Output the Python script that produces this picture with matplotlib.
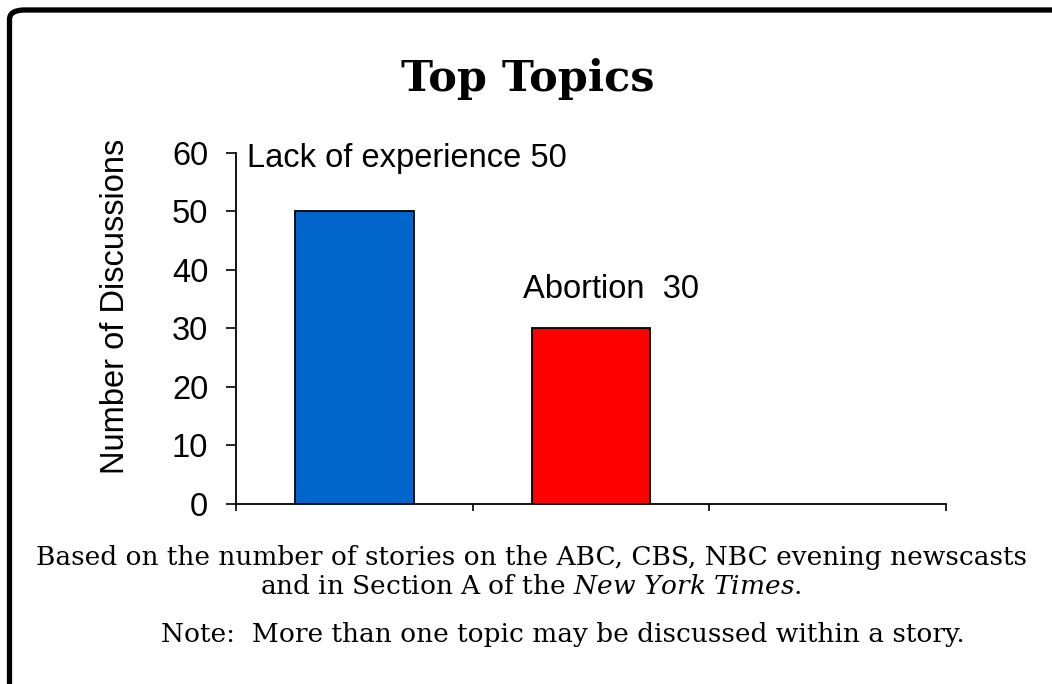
import matplotlib
matplotlib.use("Agg")
import matplotlib.pyplot as plt
from matplotlib.patches import FancyBboxPatch

plt.rcParams["mathtext.fontset"] = "dejavuserif"

categories = ["Lack of experience", "Abortion", ""]
values = [50, 30, 0]
bar_colors = ["#0066CC", "#FF0000", "#FFFFFF"]
label_texts = ["Lack of experience 50", "Abortion  30"]
yticks = [0, 10, 20, 30, 40, 50, 60]

W, H = 1052, 684
fig = plt.figure(figsize=(W / 100, H / 100), dpi=100)
fig.patch.set_facecolor("white")

# rounded border (extends past right/bottom edge)
border = FancyBboxPatch((9.5 / W, -30 / H), (1100 - 9.5) / W, (H - 10 + 30) / H,
                        boxstyle="round,pad=0,rounding_size=0.014",
                        transform=fig.transFigure, fill=False, lw=3.8,
                        edgecolor="black", clip_on=False)
fig.patches.append(border)

ax = fig.add_axes([236 / W, 1 - 504 / H, (946 - 236) / W, (504 - 152.7) / H])
x = list(range(len(categories)))
ax.bar(x[:2], values[:2], width=0.5, color=bar_colors[:2], edgecolor="black", linewidth=1.3, zorder=3)
ax.set_xlim(-0.5, 2.5)
ax.set_ylim(0, 60)
ax.set_yticks(yticks)
ax.set_yticklabels([str(t) for t in yticks], fontsize=23.5, family="Liberation Sans")
ax.set_xticks([-0.5, 0.5, 1.5, 2.5])
ax.set_xticklabels([])
ax.tick_params(axis="y", direction="out", length=7, width=1.2, pad=13)
ax.tick_params(axis="x", direction="out", length=5, width=1.2)
for s in ["top", "right"]:
    ax.spines[s].set_visible(False)
for s in ["left", "bottom"]:
    ax.spines[s].set_linewidth(1.3)

ax.set_ylabel("Number of Discussions", fontsize=23.5, family="Liberation Sans")
ax.yaxis.set_label_coords(-0.148, 0.5636)

ax.text(-0.4535, 57.6, label_texts[0], fontsize=23.5, family="Liberation Sans", ha="left", va="baseline")
ax.text(0.7125, 35.2, label_texts[1], fontsize=23.5, family="Liberation Sans", ha="left", va="baseline")

fig.text(528 / W, 1 - 91 / H, "Top Topics", fontsize=31, fontweight="bold", family="DejaVu Serif",
         ha="center", va="baseline")

fig.text(531 / W, 1 - 565 / H, "Based on the number of stories on the ABC, CBS, NBC evening newscasts",
         fontsize=19, family="DejaVu Serif", ha="center", va="baseline")
fig.text(531 / W, 1 - 594 / H, "and in Section A of the $\\it{New\\ York\\ Times}$.",
         fontsize=19, family="DejaVu Serif", ha="center", va="baseline")
fig.text(563 / W, 1 - 642 / H, "Note:  More than one topic may be discussed within a story.",
         fontsize=19, family="DejaVu Serif", ha="center", va="baseline")

fig.savefig("out.png", dpi=100, facecolor="white")
